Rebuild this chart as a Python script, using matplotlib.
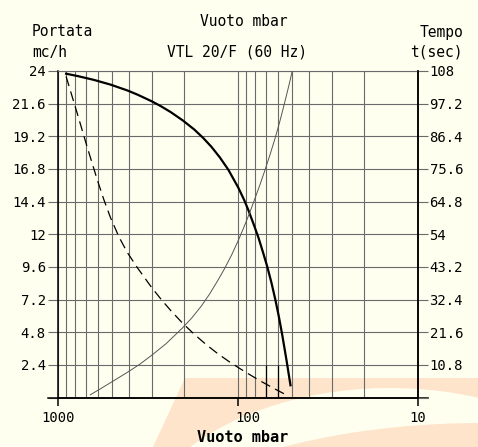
import matplotlib
matplotlib.use('Agg')
import matplotlib.pyplot as plt
from matplotlib.patches import Polygon, Ellipse
from matplotlib import transforms

plt.rcParams['font.family'] = 'DejaVu Sans Mono'

# portata (mc/h) vs vuoto (mbar) - thick curve
vac_flow = [898, 782, 631, 509, 410, 360, 300, 267, 235, 202, 174, 155, 140,
            125.7, 112.7, 99.1, 92, 87.1, 81, 76.5, 72, 68.7, 65, 61.8, 59,
            56.6, 53.5, 50.9]
flow = [23.8, 23.64, 23.35, 23.0, 22.57, 22.26, 21.77, 21.41, 20.97, 20.37,
        19.69, 19.06, 18.43, 17.65, 16.74, 15.41, 14.51, 13.75, 12.63, 11.71,
        10.58, 9.67, 8.46, 7.2, 5.91, 4.62, 2.7, 0.9]

# dashed curve (left scale)
vac_dash = [898, 782, 688, 604, 555, 509, 455, 410, 360, 300, 265, 235, 202,
            174, 150, 129, 112, 99, 85, 73.3, 64, 55.4]
dash = [23.6, 20.96, 18.47, 16.04, 14.57, 13.22, 11.76, 10.65, 9.52, 8.07,
        7.18, 6.38, 5.45, 4.64, 3.9, 3.22, 2.65, 2.19, 1.65, 1.15, 0.72, 0.28]

# tempo (sec) vs vuoto (mbar) - thin curve, right scale
vac_time = [659, 580, 509, 410, 350, 300, 250, 202, 180, 159, 143, 129, 118,
            108, 100, 93, 86, 80, 75, 70.3, 66, 61.8, 58.5, 55.4, 52.5, 49.8]
tempo = [0.9, 2.85, 4.9, 8.33, 11.0, 14.0, 17.8, 23.1, 26.3, 30.3, 34.3, 38.7,
         42.75, 47.2, 51.5, 55.9, 60.95, 66.0, 70.6, 75.5, 80.5, 86.0, 91.05,
         96.5, 102.1, 107.9]

left_ticks = [0, 2.4, 4.8, 7.2, 9.6, 12, 14.4, 16.8, 19.2, 21.6, 24]
left_labels = ['', '2.4', '4.8', '7.2', '9.6', '12', '14.4', '16.8', '19.2', '21.6', '24']
right_ticks = [0, 10.8, 21.6, 32.4, 43.2, 54, 64.8, 75.6, 86.4, 97.2, 108]
right_labels = ['', '10.8', '21.6', '32.4', '43.2', '54', '64.8', '75.6', '86.4', '97.2', '108']
x_ticks = [1000, 100, 10]
x_labels = ['1000', '100', '10']

W, H = 478, 447
bg = '#fffff0'
peach = '#fde4cb'
grid_c = '#6a6a6a'

fig = plt.figure(figsize=(W / 100, H / 100), dpi=100, facecolor=bg)


def px(x, y):
    return (x / W, 1 - y / H)


# faint logo watermark behind the chart
fig.add_artist(Polygon([px(153, 447), px(185, 378), px(478, 378), px(478, 447)],
                       closed=True, transform=fig.transFigure, facecolor=peach,
                       edgecolor='none', zorder=-3))
cx, cy = px(390, 560)
fig.add_artist(Ellipse((cx, cy), 2 * 265 / W, 2 * 172 / H, transform=fig.transFigure,
                       facecolor=bg, edgecolor='none', zorder=-2))
cx, cy = px(480, 640)
fig.add_artist(Ellipse((cx, cy), 2 * 431 / W, 2 * 217 / H, transform=fig.transFigure,
                       facecolor=peach, edgecolor='none', zorder=-1))

ax = fig.add_axes([57.7 / W, 1 - 397.5 / H, 360 / W, 326.5 / H])
ax.patch.set_alpha(0)
ax.set_xscale('log')
ax.set_xlim(1000, 10)
ax.set_ylim(0, 24)

ax.grid(which='both', axis='x', color=grid_c, lw=0.8)
ax.grid(which='major', axis='y', color=grid_c, lw=0.8)
ax.set_axisbelow(True)
ax.vlines([70, 60], 0, 2.4, color='black', lw=0.9)

ax.plot(vac_flow, flow, color='black', lw=1.6, zorder=4, solid_joinstyle='round')
ax.plot(vac_dash, dash, color='black', lw=0.9, linestyle=(0, (8, 4.5)), zorder=4)

ax.set_yticks(left_ticks)
ax.set_yticklabels(left_labels)
ax.set_xticks(x_ticks)
ax.set_xticklabels(x_labels)
ax.tick_params(axis='x', which='minor', length=0)
ax.tick_params(axis='x', which='major', direction='out', length=6, width=1.1,
               color='black', labelsize=10, pad=4)
ax.tick_params(axis='y', direction='out', length=7.5, width=0.8, color=grid_c,
               labelsize=10, pad=1)
for lab in ax.get_xticklabels():
    if lab.get_text() == '100':
        lab.set_transform(lab.get_transform() +
                          transforms.ScaledTranslation(0.1, 0, fig.dpi_scale_trans))

for side in ['left', 'right', 'bottom']:
    ax.spines[side].set_color('black')
    ax.spines[side].set_linewidth(1.1)
ax.spines['top'].set_color(grid_c)
ax.spines['top'].set_linewidth(0.8)
ax.plot([-10 / 360, 1 + 10 / 360], [0, 0], color='black', lw=1.1,
        transform=ax.transAxes, clip_on=False)

ax2 = ax.twinx()
ax2.set_ylim(0, 108)
ax2.plot(vac_time, tempo, color='#555555', lw=0.7, solid_joinstyle='round')
ax2.set_yticks(right_ticks)
ax2.set_yticklabels(right_labels)
ax2.tick_params(axis='y', direction='out', length=7.5, width=0.8, color=grid_c,
                labelsize=10, pad=1)
ax2.spines['right'].set_color('black')
ax2.spines['right'].set_linewidth(1.1)
ax2.spines['left'].set_visible(False)
ax2.spines['top'].set_visible(False)
ax2.spines['bottom'].set_visible(False)

fs = 10.5
fig.text(*px(243.5, 22), 'Vuoto mbar', ha='center', va='center', fontsize=fs)
fig.text(*px(237, 52), 'VTL 20/F (60 Hz)', ha='center', va='center', fontsize=fs)
fig.text(*px(32, 32), 'Portata', ha='left', va='center', fontsize=fs)
fig.text(*px(32, 52), 'mc/h', ha='left', va='center', fontsize=fs)
fig.text(*px(463, 32), 'Tempo', ha='right', va='center', fontsize=fs)
fig.text(*px(463, 52), 't(sec)', ha='right', va='center', fontsize=fs)
fig.text(*px(243, 437), 'Vuoto mbar', ha='center', va='center', fontsize=11,
         fontweight='bold')

fig.savefig('out.png', dpi=100, facecolor=bg)
